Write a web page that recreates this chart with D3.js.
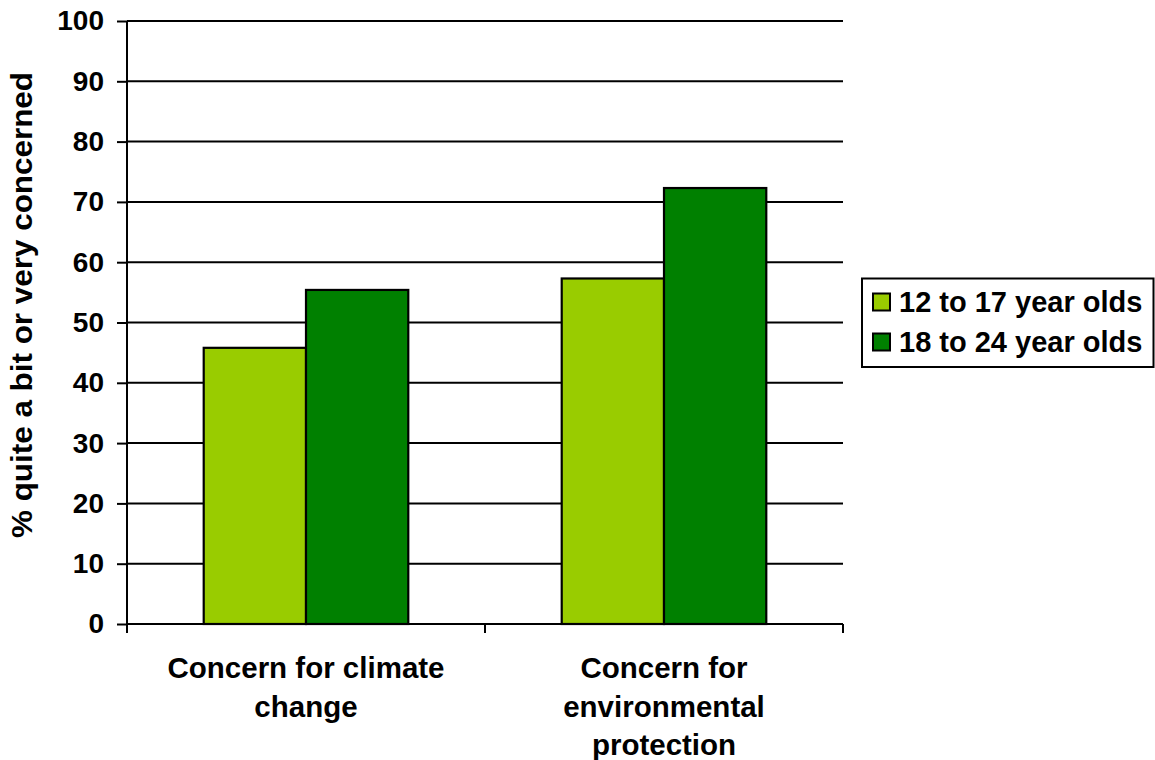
<!DOCTYPE html>
<html>
<head>
<meta charset="utf-8">
<script src="https://cdn.jsdelivr.net/npm/d3@7"></script>
<style>
  html, body { margin: 0; padding: 0; background: #fff; }
  svg { display: block; }
  text { font-family: "Liberation Sans", Arial, sans-serif; font-weight: bold; fill: #000; }
</style>
</head>
<body>
<svg id="chart" width="1155" height="760"></svg>
<script>
const categories = [["Concern for climate", "change"], ["Concern for", "environmental", "protection"]];
const seriesNames = ["12 to 17 year olds", "18 to 24 year olds"];
const ages12to17 = [45.8, 57.3];
const ages18to24 = [55.4, 72.3];
const yTicks = [0, 10, 20, 30, 40, 50, 60, 70, 80, 90, 100];
const colors = ["#99CC00", "#008000"];
const yTitle = "% quite a bit or very concerned";

(function () {
const svg = d3.select("#chart");
const pLeft = 127, pRight = 843, pTop = 21, pBottom = 624;

const x = d3.scaleBand().domain(d3.range(categories.length)).range([pLeft, pRight]).paddingInner(0).paddingOuter(0);
const xSub = d3.scaleBand().domain(d3.range(seriesNames.length)).range([0, x.bandwidth()]).paddingInner(0).paddingOuter(0.75);
const y = d3.scaleLinear().domain([0, 100]).range([pBottom, pTop]);

// gridlines
svg.append("g").selectAll("line").data(yTicks.filter(d => d > 0)).join("line")
  .attr("x1", pLeft).attr("x2", pRight)
  .attr("y1", d => y(d)).attr("y2", d => y(d))
  .attr("stroke", "#000").attr("stroke-width", 2);

// bars
const series = [ages12to17, ages18to24];
const groups = svg.append("g").selectAll("g").data(categories).join("g")
  .attr("transform", (d, i) => `translate(${x(i)},0)`);
groups.selectAll("rect").data((d, i) => series.map((s, j) => ({ j, v: s[i] }))).join("rect")
  .attr("x", d => xSub(d.j))
  .attr("width", xSub.bandwidth())
  .attr("y", d => y(d.v))
  .attr("height", d => y(0) - y(d.v))
  .attr("fill", d => colors[d.j])
  .attr("stroke", "#000").attr("stroke-width", 2.2);

// y axis
const yAxis = d3.axisLeft(y).tickValues(yTicks).tickSize(10).tickPadding(13);
const gy = svg.append("g").attr("transform", `translate(${pLeft},0)`).call(yAxis);
gy.select(".domain").attr("stroke", "#000").attr("stroke-width", 2).attr("d", `M0,${pTop}V${pBottom + 9}`);
gy.selectAll(".tick line").attr("stroke", "#000").attr("stroke-width", 2);
gy.selectAll(".tick text").attr("font-size", 28).attr("font-family", "Liberation Sans, Arial, sans-serif").attr("font-weight", "bold").attr("fill", "#000");

// x axis
const xEdges = d3.range(categories.length + 1).map(i => pLeft + i * x.bandwidth());
const gx = svg.append("g");
gx.append("line").attr("x1", pLeft).attr("x2", pRight).attr("y1", pBottom).attr("y2", pBottom)
  .attr("stroke", "#000").attr("stroke-width", 2);
gx.selectAll("line.t").data(xEdges).join("line").attr("class", "t")
  .attr("x1", d => d).attr("x2", d => d).attr("y1", pBottom).attr("y2", pBottom + 9)
  .attr("stroke", "#000").attr("stroke-width", 2);

// category labels
const lab = svg.append("g").selectAll("text").data(categories).join("text")
  .attr("text-anchor", "middle").attr("font-size", 29.5)
  .attr("transform", (d, i) => `translate(${x(i) + x.bandwidth() / 2},678)`);
lab.selectAll("tspan").data(d => d).join("tspan")
  .attr("x", 0).attr("y", (d, i) => i * 38.5).text(d => d);

// y title
svg.append("text")
  .attr("transform", "translate(32,305) rotate(-90)")
  .attr("text-anchor", "middle").attr("font-size", 29)
  .attr("textLength", 466).attr("lengthAdjust", "spacingAndGlyphs")
  .text(yTitle);

// legend
const lg = svg.append("g");
lg.append("rect").attr("x", 862).attr("y", 278.5).attr("width", 291.5).attr("height", 88.5)
  .attr("fill", "#fff").attr("stroke", "#000").attr("stroke-width", 2);
const items = lg.selectAll("g").data(seriesNames).join("g")
  .attr("transform", (d, i) => `translate(0,${302 + i * 40})`);
items.append("rect").attr("x", 873).attr("y", -8.5).attr("width", 17).attr("height", 17)
  .attr("fill", (d, i) => colors[i]).attr("stroke", "#000").attr("stroke-width", 2);
items.append("text").attr("x", 899).attr("y", 10).attr("font-size", 29).text(d => d);
})();
</script>
</body>
</html>
